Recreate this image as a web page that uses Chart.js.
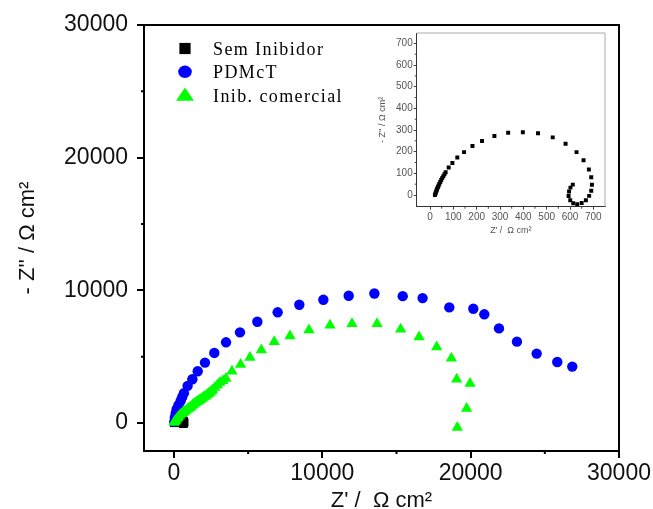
<!DOCTYPE html>
<html>
<head>
<meta charset="utf-8">
<title>Nyquist</title>
<script src="https://cdn.jsdelivr.net/npm/chart.js@4.4.0/dist/chart.umd.min.js"></script>
<style>
  html, body { margin: 0; padding: 0; background: #fff; }
  #wrap { position: relative; width: 653px; height: 509px; overflow: hidden; }
  #main { position: absolute; left: 0; top: 0; width: 653px; height: 509px; }
  #inset { position: absolute; left: 360px; top: 26px; width: 255px; height: 214px; }
</style>
</head>
<body>
<div id="wrap">
  <canvas id="main" width="653" height="509"></canvas>
  <canvas id="inset" width="255" height="214"></canvas>
</div>
<script>
// series names
const seriesNames = ["Sem Inibidor", "PDMcT", "Inib. comercial"];

// Sem Inibidor (Z', -Z'') in ohm cm2
const blankRe = [21, 23, 25, 27, 29, 31, 34, 37, 40, 44, 48, 52, 57, 62, 67, 80, 96, 117, 146, 182, 223, 276, 335, 398, 463, 526, 581, 628, 658, 681, 691, 694, 691, 682, 668, 650, 631, 614, 601, 594, 596, 602, 612];
const blankIm = [0, 6, 12, 18, 24, 30, 37, 44, 52, 60, 69, 78, 87, 96, 105, 127, 148, 173, 198, 226, 249, 272, 287, 290, 285, 266, 237, 198, 160, 118, 82, 47, 20, -4, -24, -37, -43, -38, -24, -5, 16, 34, 48];

// PDMcT
const pdmctRe = [20, 60, 120, 180, 300, 450, 550, 670, 920, 1240, 1600, 2090, 2720, 3510, 4450, 5620, 6990, 8450, 10070, 11780, 13510, 15420, 16760, 18560, 20180, 20920, 21910, 23120, 24450, 25840, 26850];
const pdmctIm = [100, 430, 750, 1050, 1350, 1680, 1950, 2260, 2810, 3310, 3910, 4560, 5290, 6090, 6840, 7640, 8350, 8920, 9300, 9600, 9770, 9570, 9420, 8720, 8620, 8200, 7140, 6140, 5240, 4610, 4260];

// Inib. comercial
const comRe = [0, 60, 100, 180, 250, 300, 400, 500, 600, 670, 740, 820, 900, 990, 1080, 1160, 1250, 1330, 1420, 1500, 1590, 1670, 1750, 1830, 1920, 2000, 2090, 2170, 2260, 2340, 2430, 2510, 2600, 2760, 2930, 3100, 3300, 3510, 3910, 4490, 5120, 5890, 6760, 7820, 9100, 10520, 12000, 13690, 15280, 16520, 17710, 18700, 19060, 19960, 19730, 19100];
const comIm = [50, 120, 180, 300, 400, 480, 600, 700, 780, 830, 900, 960, 1040, 1110, 1180, 1260, 1340, 1420, 1500, 1570, 1630, 1690, 1750, 1810, 1880, 1950, 2010, 2080, 2150, 2230, 2310, 2400, 2500, 2680, 2870, 3060, 3200, 3360, 3910, 4410, 4940, 5510, 6140, 6560, 7020, 7370, 7490, 7490, 7070, 6490, 5740, 4890, 3310, 2980, 1100, -330];

// tick values
const mainTicks = [0, 10000, 20000, 30000];
const mainMinor = [5000, 15000, 25000];
const insetTicks = [0, 100, 200, 300, 400, 500, 600, 700];
const insetMinor = [50, 150, 250, 350, 450, 550, 650];

const toPoints = (xs, ys) => xs.map((x, i) => ({ x: x, y: ys[i] }));
const plainNum = (v) => String(v);

const colors = ["#000000", "#0000ff", "#00ff00"];
const styles = ["rect", "circle", "triangle"];

// top/right frame + short minor ticks
const frameMinor = {
  id: "frameMinor",
  afterDraw(chart, args, opts) {
    const { ctx, chartArea: a, scales } = chart;
    ctx.save();
    ctx.strokeStyle = opts.frameColor;
    ctx.lineWidth = opts.frameWidth;
    ctx.beginPath();
    ctx.moveTo(a.left, a.top);
    ctx.lineTo(a.right, a.top);
    ctx.lineTo(a.right, a.bottom);
    ctx.stroke();
    ctx.strokeStyle = opts.tickColor;
    ctx.lineWidth = opts.tickWidth;
    ctx.beginPath();
    opts.minor.forEach((v) => {
      const x = scales.x.getPixelForValue(v);
      ctx.moveTo(x, a.bottom);
      ctx.lineTo(x, a.bottom + opts.len);
      const y = scales.y.getPixelForValue(v);
      ctx.moveTo(a.left, y);
      ctx.lineTo(a.left - opts.len, y);
    });
    ctx.stroke();
    ctx.restore();
  },
};

function drawMarker(ctx, style, x, y, r) {
  ctx.beginPath();
  if (style === "rect") {
    ctx.rect(x - r, y - r, 2 * r, 2 * r);
  } else if (style === "circle") {
    ctx.ellipse(x, y, r * 1.1, r, 0, 0, Math.PI * 2);
  } else {
    ctx.moveTo(x, y - r);
    ctx.lineTo(x + r * 1.2, y + r * 0.75);
    ctx.lineTo(x - r * 1.2, y + r * 0.75);
    ctx.closePath();
  }
  ctx.fill();
}

// legend inside the plot, serif font
const boxLegend = {
  id: "boxLegend",
  afterDraw(chart) {
    const ctx = chart.ctx;
    ctx.save();
    ctx.font = "18px 'Liberation Serif', 'Times New Roman', serif";
    ctx.letterSpacing = "1.4px";
    ctx.textBaseline = "alphabetic";
    chart.data.datasets.forEach((ds, i) => {
      const base = 55 + i * 23.3;
      ctx.fillStyle = colors[i];
      drawMarker(ctx, styles[i], 185, base - 6.5, [5.6, 6.2, 7.5][i]);
      ctx.fillStyle = "#000";
      ctx.fillText(ds.label, 213, base);
    });
    ctx.restore();
  },
};

const sansMain = "'Liberation Sans', Arial, sans-serif";

const mainChart = new Chart(document.getElementById("main"), {
  type: "scatter",
  data: {
    datasets: [
      {
        label: seriesNames[0],
        data: toPoints(blankRe, blankIm),
        pointStyle: "rect",
        pointRadius: 5.6,
        backgroundColor: colors[0],
        borderWidth: 0,
        order: 2,
      },
      {
        label: seriesNames[1],
        data: toPoints(pdmctRe, pdmctIm),
        pointStyle: "circle",
        pointRadius: 5.2,
        backgroundColor: colors[1],
        borderWidth: 0,
        order: 1,
      },
      {
        label: seriesNames[2],
        data: toPoints(comRe, comIm),
        pointStyle: "triangle",
        pointRadius: 6.5,
        backgroundColor: colors[2],
        borderWidth: 0,
        order: 0,
      },
    ],
  },
  options: {
    responsive: false,
    animation: false,
    devicePixelRatio: 1,
    layout: { padding: { left: 0, right: 34, top: 25, bottom: 0 } },
    plugins: {
      legend: { display: false },
      tooltip: { enabled: false },
      frameMinor: { frameColor: "#000", frameWidth: 2, tickColor: "#000", tickWidth: 2, len: 3, minor: mainMinor },
    },
    scales: {
      x: {
        type: "linear",
        min: -2020,
        max: 30000,
        afterBuildTicks: (axis) => { axis.ticks = mainTicks.map((v) => ({ value: v })); },
        afterFit: (s) => { s.height = 58; },
        grid: { drawOnChartArea: false, drawTicks: true, tickLength: 7, color: "#000", lineWidth: 2 },
        border: { display: true, color: "#000", width: 2 },
        ticks: { font: { family: sansMain, size: 23 }, color: "#111", padding: 2, maxRotation: 0, callback: plainNum },
        title: {
          display: true,
          text: "Z' /  Ω cm²",
          font: { family: sansMain, size: 22, lineHeight: 1 },
          color: "#111",
          padding: { top: 0, bottom: -3 },
        },
      },
      y: {
        type: "linear",
        min: -2100,
        max: 30000,
        afterBuildTicks: (axis) => { axis.ticks = mainTicks.map((v) => ({ value: v })); },
        afterFit: (s) => { s.width = 144; },
        grid: { drawOnChartArea: false, drawTicks: true, tickLength: 7, color: "#000", lineWidth: 2 },
        border: { display: true, color: "#000", width: 2 },
        ticks: { font: { family: sansMain, size: 23 }, color: "#111", padding: 9, callback: plainNum },
        title: {
          display: true,
          text: "- Z'' / Ω cm²",
          font: { family: sansMain, size: 22 },
          color: "#111",
          padding: { top: 15, bottom: 0 },
        },
      },
    },
  },
  plugins: [frameMinor, boxLegend],
});

const insetChart = new Chart(document.getElementById("inset"), {
  type: "scatter",
  data: {
    datasets: [
      {
        label: seriesNames[0],
        data: toPoints(blankRe, blankIm),
        pointStyle: "rect",
        pointRadius: 2.8,
        backgroundColor: "#000",
        borderWidth: 0,
      },
    ],
  },
  options: {
    responsive: false,
    animation: false,
    devicePixelRatio: 1,
    layout: { padding: { left: 0, right: 10, top: 5.7, bottom: 0 } },
    plugins: {
      legend: { display: false },
      tooltip: { enabled: false },
      frameMinor: { frameColor: "#aaa", frameWidth: 1, tickColor: "#444", tickWidth: 1, len: 2, minor: insetMinor },
    },
    scales: {
      x: {
        type: "linear",
        min: -57,
        max: 750,
        afterBuildTicks: (axis) => { axis.ticks = insetTicks.map((v) => ({ value: v })); },
        afterFit: (s) => { s.height = 33.3; },
        grid: { drawOnChartArea: false, drawTicks: true, tickLength: 3, color: "#444", lineWidth: 1 },
        border: { display: true, color: "#333", width: 1 },
        ticks: { font: { family: sansMain, size: 10 }, color: "#555", padding: 2, maxRotation: 0, callback: plainNum },
        title: {
          display: true,
          text: "Z' /  Ω cm²",
          font: { family: sansMain, size: 9 },
          color: "#555",
          padding: { top: 0, bottom: 4.5 },
        },
      },
      y: {
        type: "linear",
        min: -54,
        max: 748,
        afterBuildTicks: (axis) => { axis.ticks = insetTicks.map((v) => ({ value: v })); },
        afterFit: (s) => { s.width = 56.7; },
        grid: { drawOnChartArea: false, drawTicks: true, tickLength: 3, color: "#444", lineWidth: 1 },
        border: { display: true, color: "#333", width: 1 },
        ticks: { font: { family: sansMain, size: 10 }, color: "#555", padding: 1, callback: plainNum },
        title: {
          display: true,
          text: "- Z'' / Ω cm²",
          font: { family: sansMain, size: 9 },
          color: "#555",
          padding: { top: 17, bottom: 0 },
        },
      },
    },
  },
  plugins: [frameMinor],
});
</script>
</body>
</html>
